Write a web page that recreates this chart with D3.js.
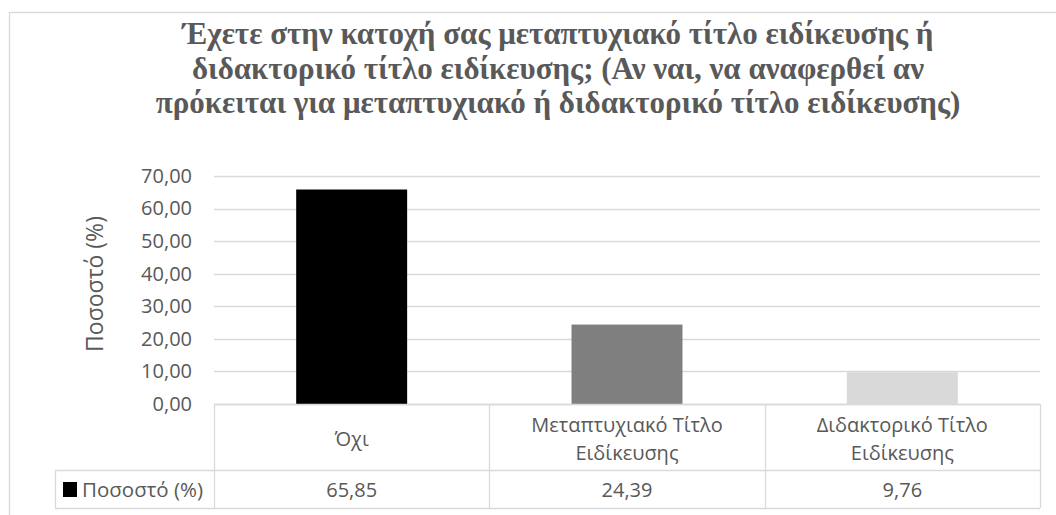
<!DOCTYPE html>
<html>
<head>
<meta charset="utf-8">
<script src="https://cdn.jsdelivr.net/npm/d3@7"></script>
<style>
  body { margin: 0; background: #fff; }
  svg { display: block; }
</style>
</head>
<body>
<script>
// Data
const titleLines = [
    "Έχετε στην κατοχή σας μεταπτυχιακό τίτλο ειδίκευσης ή",
    "διδακτορικό τίτλο ειδίκευσης; (Αν ναι, να αναφερθεί αν",
    "πρόκειται για μεταπτυχιακό ή διδακτορικό τίτλο ειδίκευσης)"
];
const categories = ["Όχι", "Μεταπτυχιακό Τίτλο Ειδίκευσης", "Διδακτορικό Τίτλο Ειδίκευσης"];
const categoryLines = [["Όχι"], ["Μεταπτυχιακό Τίτλο", "Ειδίκευσης"], ["Διδακτορικό Τίτλο", "Ειδίκευσης"]];
const values = [65.85, 24.39, 9.76];
const barColors = ["#000000", "#7f7f7f", "#d9d9d9"];
const seriesName = "Ποσοστό (%)";
const yTicks = [0, 10, 20, 30, 40, 50, 60, 70];

const width = 1056, height = 515;
const margin = {top: 176, right: 16, bottom: 111, left: 214};
const textColor = "#595959";
const lineColor = "#d9d9d9";
const sansFont = "'Open Sans', 'Noto Sans', sans-serif";

// comma decimal, like the source
let fmt = v => v.toFixed(2).replace(".", ",");

let svg = d3.select("body").append("svg")
    .attr("width", width)
    .attr("height", height);

// chart border (right and bottom fall off the picture)
svg.append("rect")
    .attr("x", 9.5).attr("y", 12.5)
    .attr("width", 1060).attr("height", 520)
    .attr("fill", "none")
    .attr("stroke", lineColor)
    .attr("stroke-width", 1.3);

// title
svg.append("text")
    .attr("text-anchor", "middle")
    .attr("font-family", "'Liberation Serif', 'Times New Roman', serif")
    .attr("font-weight", "bold")
    .attr("font-size", 31)
    .attr("fill", textColor)
    .selectAll("tspan")
    .data(titleLines)
    .enter().append("tspan")
    .attr("x", 558)
    .attr("y", (d, i) => 44 + i * 34.5)
    .text(d => d);

let x = d3.scaleBand()
    .domain(categories)
    .range([margin.left, width - margin.right])
    .paddingInner(0.597)
    .paddingOuter(0.2985);

let y = d3.scaleLinear()
    .domain([0, 70])
    .range([height - margin.bottom, margin.top]);

// gridlines
svg.append("g")
    .selectAll("line")
    .data(yTicks)
    .enter().append("line")
    .attr("x1", margin.left)
    .attr("x2", width - margin.right)
    .attr("y1", d => Math.round(y(d)) + 0.5)
    .attr("y2", d => Math.round(y(d)) + 0.5)
    .attr("stroke", lineColor)
    .attr("stroke-width", 1.3);

// y axis labels
let yAxis = d3.axisLeft(y)
    .tickValues(yTicks)
    .tickSize(0)
    .tickPadding(22)
    .tickFormat(fmt);

let yg = svg.append("g")
    .attr("transform", "translate(" + margin.left + ",0)")
    .call(yAxis);
yg.select(".domain").remove();
yg.selectAll("text")
    .attr("font-family", sansFont)
    .attr("font-size", 20)
    .attr("fill", textColor);

// axis title
svg.append("text")
    .attr("transform", "translate(103,284) rotate(-90)")
    .attr("text-anchor", "middle")
    .attr("font-family", sansFont)
    .attr("font-size", 23)
    .attr("fill", textColor)
    .text(seriesName);

// bars
svg.append("g")
    .selectAll("rect")
    .data(values)
    .enter().append("rect")
    .attr("x", (d, i) => x(categories[i]))
    .attr("y", d => y(d))
    .attr("width", x.bandwidth())
    .attr("height", d => y(0) - y(d))
    .attr("fill", (d, i) => barColors[i]);

// data table under the plot
const tableTop = y(0);
const rowSplit = 470;
const tableBottom = 508;
const legendLeft = 55;
let step = x.step();
let colEdges = categories.map((c, i) => margin.left + i * step);
colEdges.push(width - margin.right);

let table = svg.append("g")
    .attr("stroke", lineColor)
    .attr("stroke-width", 1.3);

// horizontals
table.append("line")
    .attr("x1", margin.left).attr("x2", width - margin.right)
    .attr("y1", tableTop + 0.5).attr("y2", tableTop + 0.5);
table.append("line")
    .attr("x1", legendLeft).attr("x2", width - margin.right)
    .attr("y1", rowSplit + 0.5).attr("y2", rowSplit + 0.5);
table.append("line")
    .attr("x1", legendLeft).attr("x2", width - margin.right)
    .attr("y1", tableBottom + 0.5).attr("y2", tableBottom + 0.5);

// verticals
table.selectAll(".vcol")
    .data(colEdges)
    .enter().append("line")
    .attr("class", "vcol")
    .attr("x1", d => Math.round(d) + 0.5).attr("x2", d => Math.round(d) + 0.5)
    .attr("y1", tableTop).attr("y2", tableBottom);
table.append("line")
    .attr("x1", legendLeft + 0.5).attr("x2", legendLeft + 0.5)
    .attr("y1", rowSplit).attr("y2", tableBottom);

// category labels
svg.append("g")
    .selectAll("text")
    .data(categoryLines)
    .enter().append("text")
    .attr("text-anchor", "middle")
    .attr("font-family", sansFont)
    .attr("font-size", 20)
    .attr("fill", textColor)
    .each(function(lines, i) {
        let cx = colEdges[i] + step / 2;
        let start = 446 - (lines.length - 1) * 14;
        d3.select(this).selectAll("tspan")
            .data(lines)
            .enter().append("tspan")
            .attr("x", cx)
            .attr("y", (d, j) => start + j * 28)
            .text(d => d);
    });

// legend row
svg.append("rect")
    .attr("x", 63).attr("y", 482)
    .attr("width", 14).attr("height", 15)
    .attr("fill", barColors[0]);
svg.append("text")
    .attr("x", 82).attr("y", 497)
    .attr("font-family", sansFont)
    .attr("font-size", 20.5)
    .attr("fill", textColor)
    .text(seriesName);

svg.append("g")
    .selectAll("text")
    .data(values)
    .enter().append("text")
    .attr("x", (d, i) => colEdges[i] + step / 2)
    .attr("y", 497)
    .attr("text-anchor", "middle")
    .attr("font-family", sansFont)
    .attr("font-size", 20)
    .attr("fill", textColor)
    .text(fmt);
</script>
</body>
</html>
